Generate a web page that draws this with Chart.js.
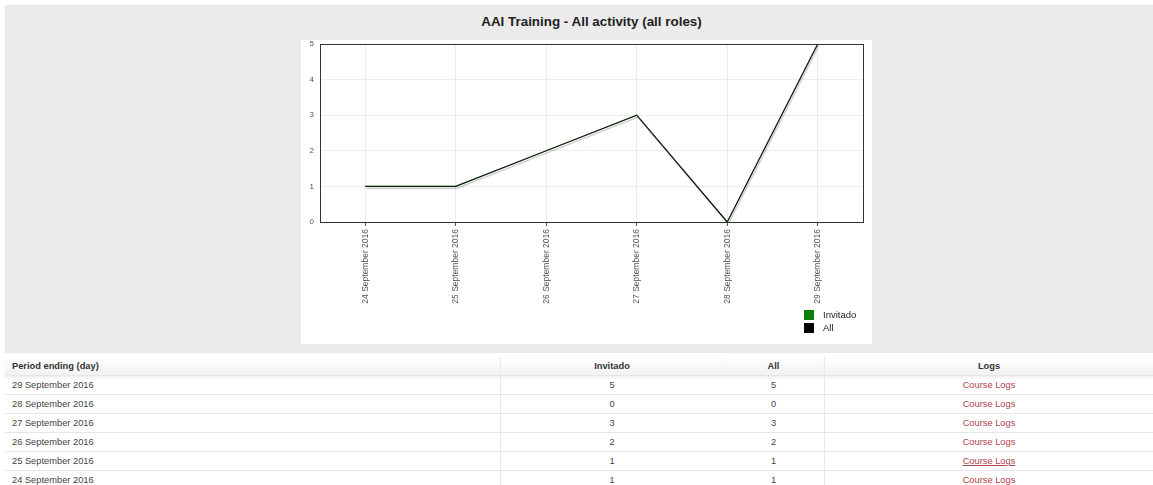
<!DOCTYPE html>
<html>
<head>
<meta charset="utf-8">
<script src="https://cdn.jsdelivr.net/npm/chart.js@4"></script>
<style>
  body { margin: 0; background: #fff; font-family: "Liberation Sans", Arial, sans-serif; }
  #report { position: absolute; left: 5px; top: 5px; width: 1148px; height: 348px; background: #ebebeb; }
  #title { position: absolute; left: 296px; top: 9px; width: 581px; text-align: center; font-weight: bold; font-size: 13.4px; color: #222; }
  #panel { position: absolute; left: 296px; top: 35px; width: 571px; height: 304px; background: #fff; }
  #stats { position: absolute; left: 5px; top: 357px; width: 1148px; border-collapse: collapse; font-size: 9.3px; color: #444; }
  #stats th { height: 18px; font-weight: bold; color: #333; background: linear-gradient(#ffffff, #f2f2f2); box-shadow: 0 2px 2px rgba(0,0,0,0.06); padding: 0 7px; }
  #stats td { height: 18px; border-top: 1px solid #e6e6e6; padding: 0 7px; }
  #stats .c0 { text-align: left; width: 481px; }
  #stats .c1 { text-align: center; width: 208px; border-left: 1px solid #e8e8e8; }
  #stats .c2 { text-align: center; width: 87px; }
  #stats .c3 { text-align: center; border-left: 1px solid #e8e8e8; }
  #stats a { color: #b0414d; text-decoration: none; }
  #stats a.hover { text-decoration: underline; }
</style>
</head>
<body>
<div id="report">
  <div id="title">AAI Training - All activity (all roles)</div>
  <div id="panel"><canvas id="activityChart" width="571" height="304"></canvas></div>
</div>
<table id="stats">
  <thead><tr><th class="c0">Period ending (day)</th><th class="c1">Invitado</th><th class="c2">All</th><th class="c3">Logs</th></tr></thead>
  <tbody id="statsBody"></tbody>
</table>
<script>
const days = ['24 September 2016', '25 September 2016', '26 September 2016',
              '27 September 2016', '28 September 2016', '29 September 2016'];
const invitado = [1, 1, 2, 3, 0, 5];
const allRoles = [1, 1, 2, 3, 0, 5];
const yTicks = [0, 1, 2, 3, 4, 5];

// table, newest first
const tbody = document.getElementById('statsBody');
for (let i = days.length - 1; i >= 0; i--) {
    const tr = document.createElement('tr');
    const linkClass = i === 1 ? ' class="hover"' : '';
    tr.innerHTML = '<td class="c0">' + days[i] + '</td>' +
        '<td class="c1">' + invitado[i] + '</td>' +
        '<td class="c2">' + allRoles[i] + '</td>' +
        '<td class="c3"><a href="#"' + linkClass + '>Course Logs</a></td>';
    tbody.appendChild(tr);
}

// soft grey shadow under the top ("All") line only
const shadowPlugin = {
    id: 'lineShadow',
    beforeDatasetDraw(chart, args) {
        const ctx = chart.ctx;
        ctx.save();
        if (args.index === chart.data.datasets.length - 1) {
            ctx.shadowColor = 'rgba(0,0,0,0.25)';
            ctx.shadowOffsetX = 1;
            ctx.shadowOffsetY = 2;
            ctx.shadowBlur = 1;
        }
    },
    afterDatasetDraw(chart) {
        chart.ctx.restore();
    }
};

const framePlugin = {
    id: 'frame',
    afterDraw(chart) {
        const ctx = chart.ctx;
        const a = chart.chartArea;
        ctx.save();
        ctx.strokeStyle = '#333';
        ctx.lineWidth = 1;
        ctx.strokeRect(Math.round(a.left) + 0.5, Math.round(a.top) + 0.5,
                       Math.round(a.right - a.left), Math.round(a.bottom - a.top));
        ctx.restore();
    }
};

// legend stacked in bottom-right corner
const boxLegend = {
    id: 'boxLegend',
    afterDraw(chart) {
        const ctx = chart.ctx;
        const x = chart.chartArea.right - 59;
        let y = chart.height - 34;
        ctx.save();
        ctx.font = '9.5px "Liberation Sans", Arial, sans-serif';
        ctx.textBaseline = 'middle';
        chart.data.datasets.forEach(ds => {
            ctx.fillStyle = ds.legendColor;
            ctx.fillRect(x, y, 10, 10);
            ctx.fillStyle = '#222';
            ctx.fillText(ds.label, x + 19, y + 5.5);
            y += 13;
        });
        ctx.restore();
    }
};

new Chart(document.getElementById('activityChart'), {
    type: 'line',
    data: {
        labels: days,
        datasets: [
            // same values as "All", so it sits hidden underneath
            { label: 'Invitado', data: invitado, borderColor: '#0a7a0a', legendColor: '#0a7f0a', borderWidth: 0.3, pointRadius: 0, tension: 0 },
            { label: 'All', data: allRoles, borderColor: '#000', legendColor: '#000', borderWidth: 1.2, pointRadius: 0, tension: 0 }
        ]
    },
    options: {
        responsive: false,
        animation: false,
        layout: { padding: { top: 4, right: 9, bottom: 36, left: 0 } },
        plugins: { legend: { display: false }, tooltip: { enabled: false } },
        scales: {
            x: {
                offset: true,
                grid: { offset: false, color: '#ececec', tickColor: '#555', tickLength: 4 },
                border: { display: false },
                ticks: {
                    maxRotation: 90, minRotation: 90, padding: 3,
                    color: '#555', font: { size: 8.5, family: '"Liberation Sans", Arial, sans-serif' }
                },
                afterFit(scale) { scale.height = 86; }
            },
            y: {
                min: 0, max: 5,
                afterBuildTicks(scale) { scale.ticks = yTicks.map(v => ({ value: v })); },
                grid: { color: '#ececec', drawTicks: false },
                border: { display: false },
                ticks: {
                    padding: 6,
                    color: '#555', font: { size: 8, family: '"Liberation Sans", Arial, sans-serif' }
                },
                afterFit(scale) {
                    scale.width = 19;
                    scale.paddingTop = 0;
                    scale.paddingBottom = 0;
                }
            }
        }
    },
    plugins: [shadowPlugin, framePlugin, boxLegend]
});
</script>
</body>
</html>
